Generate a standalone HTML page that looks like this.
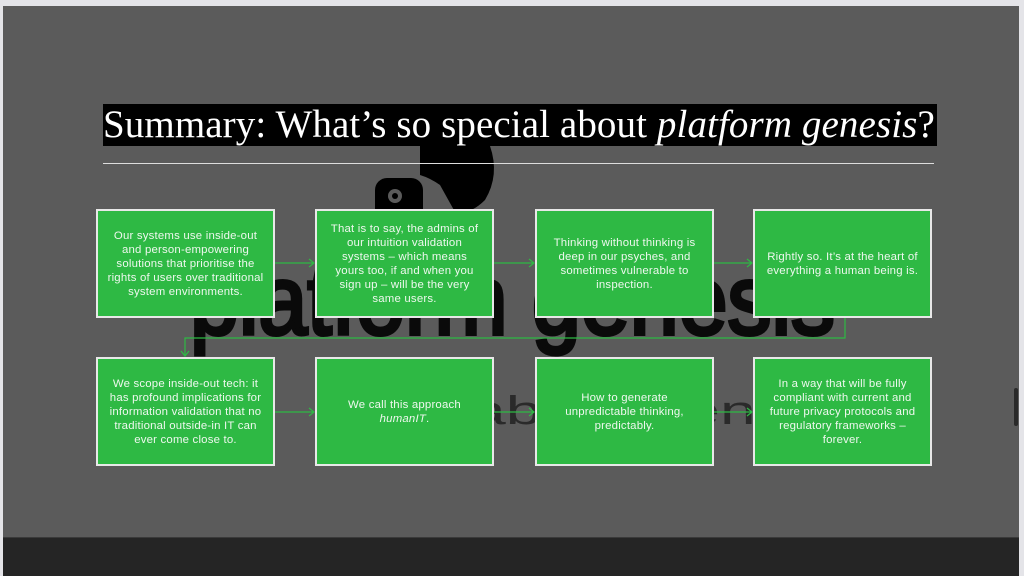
<!DOCTYPE html>
<html><head><meta charset="utf-8"><style>
html,body{margin:0;padding:0;width:1024px;height:575px;overflow:hidden;background:#e4e4e8;font-family:"Liberation Sans",sans-serif}
#slide{position:absolute;left:3px;top:6px;width:1016px;height:531px;background:#5b5b5b;overflow:hidden}
#bottom{position:absolute;left:3px;top:537px;width:1016px;height:38px;background:#252525;border-top:1px solid #3a3a3a}
.box{position:absolute;width:179px;height:109px;background:#2eb944;border:2px solid #e8e8e8;box-sizing:border-box;color:#eef8ee;font-size:11.4px;line-height:14px;text-align:center;display:flex;align-items:center;justify-content:center;padding:0 9px;letter-spacing:0.2px}
.box span{display:block}
#title{position:absolute;left:103px;top:104px;width:834px;height:42px;background:#000;color:#fff;font-family:"Liberation Serif",serif;font-size:39px;line-height:42px;white-space:nowrap;letter-spacing:0.1px}
#rule{position:absolute;left:103px;top:163px;width:831px;height:1px;background:#ddd}
#sb{position:absolute;left:1014px;top:388px;width:4px;height:38px;background:#2a2a2a;border-radius:2px}
</style></head><body>
<div id="slide"></div>
<div id="bottom"></div>
<svg width="1024" height="575" style="position:absolute;left:0;top:0">
  <path d="M420 146 L490 146 Q500 175 485 200 Q470 215 455 212 L440 185 Q430 178 420 175 Z" fill="#000"/>
  <rect x="375" y="178" width="48" height="55" rx="12" fill="#000"/>
  <circle cx="395" cy="196" r="7" fill="#5b5b5b"/><circle cx="395" cy="196" r="3" fill="#000"/>
  <text x="190" y="334" font-family="Liberation Sans,sans-serif" font-size="98" fill="#0a0a0a" stroke="#0a0a0a" stroke-width="4" textLength="645" lengthAdjust="spacingAndGlyphs">platform genesis</text>
  <text x="470" y="424" font-family="Liberation Sans,sans-serif" font-size="40" fill="#2a2a2a" textLength="300" lengthAdjust="spacingAndGlyphs">about geni</text>
</svg>
<div id="title">Summary: What’s so special about <i>platform genesis</i>?</div>
<div id="rule"></div>
<svg width="1024" height="575" style="position:absolute;left:0;top:0">
  <g stroke="#2eb944" stroke-width="1.2" fill="none">
    <path d="M275 263 H314 M309 259 L314 263 L309 267"/>
    <path d="M494 263 H534 M529 259 L534 263 L529 267"/>
    <path d="M714 263 H752 M747 259 L752 263 L747 267"/>
    <path d="M845 318 V338 H185 V356 M181 351 L185 356 L189 351"/>
    <path d="M275 412 H314 M309 408 L314 412 L309 416"/>
    <path d="M494 412 H534 M529 408 L534 412 L529 416"/>
    <path d="M714 412 H752 M747 408 L752 412 L747 416"/>
  </g>
</svg>
<div class="box" style="left:96px;top:209px"><span>Our systems use inside-out and person-empowering solutions that prioritise the rights of users over traditional system environments.</span></div>
<div class="box" style="left:315px;top:209px"><span>That is to say, the admins of our intuition validation systems – which means yours too, if and when you sign up – will be the very same users.</span></div>
<div class="box" style="left:535px;top:209px"><span>Thinking without thinking is deep in our psyches, and sometimes vulnerable to inspection.</span></div>
<div class="box" style="left:753px;top:209px"><span>Rightly so. It’s at the heart of everything a human being is.</span></div>
<div class="box" style="left:96px;top:357px"><span>We scope inside-out tech: it has profound implications for information validation that no traditional outside-in IT can ever come close to.</span></div>
<div class="box" style="left:315px;top:357px"><span>We call this approach <i>humanIT</i>.</span></div>
<div class="box" style="left:535px;top:357px"><span>How to generate unpredictable thinking, predictably.</span></div>
<div class="box" style="left:753px;top:357px"><span>In a way that will be fully compliant with current and future privacy protocols and regulatory frameworks – forever.</span></div>
<div id="sb"></div>
</body></html>
